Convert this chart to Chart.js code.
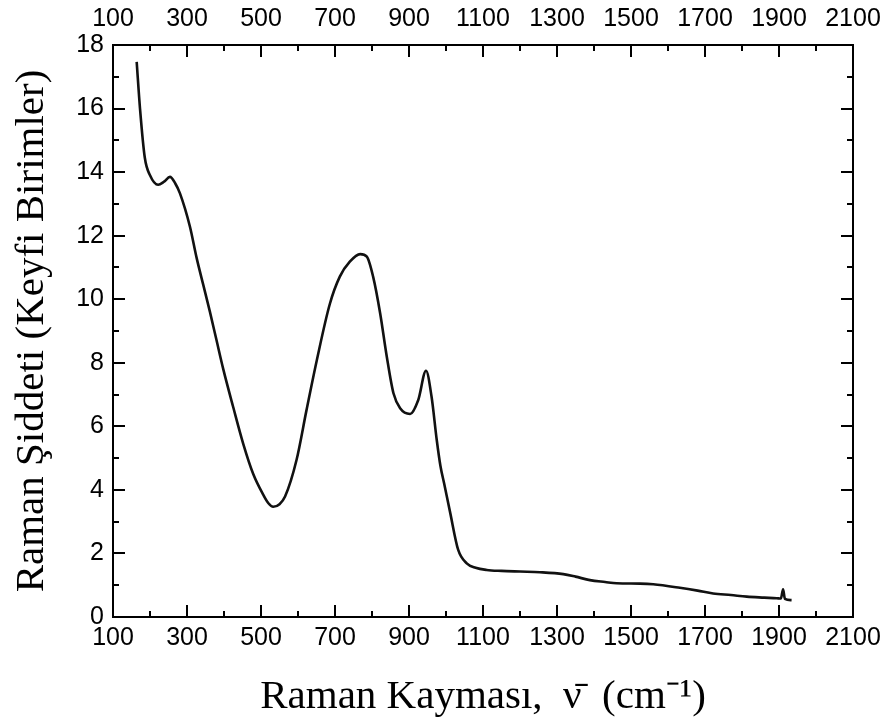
<!DOCTYPE html>
<html>
<head>
<meta charset="utf-8">
<script src="https://cdn.jsdelivr.net/npm/chart.js@4.4.1/dist/chart.umd.min.js"></script>
<style>
  html, body { margin: 0; padding: 0; background: #fff; }
  #wrap { width: 892px; height: 726px; }
</style>
</head>
<body>
<div id="wrap"><canvas id="ramanChart" width="892" height="726"></canvas></div>
<script>
// Raman shift (cm-1) and intensity (arbitrary units)
const ramanShift = [164, 173, 186, 200, 222, 238, 254, 268, 281, 308, 326, 344, 362, 380, 398,
  425, 452, 479, 506, 520, 533, 550, 565, 596, 623, 651, 686, 713, 740, 768, 786, 803, 822, 840, 858,
  876, 903, 925, 946, 961, 975, 985, 995, 1011, 1033, 1056, 1080, 1110, 1150, 1200, 1254, 1317, 1350,
  1389, 1430, 1461, 1524, 1560, 1632, 1680, 1722, 1770, 1813, 1860, 1894, 1905, 1911, 1916, 1934];
const intensity = [17.47, 16.0, 14.45, 13.9, 13.6, 13.7, 13.85, 13.65, 13.33, 12.28, 11.3,
  10.45, 9.6, 8.7, 7.8, 6.6, 5.45, 4.5, 3.85, 3.58, 3.47, 3.55, 3.79, 4.94, 6.51, 8.09, 9.85, 10.71,
  11.18, 11.42, 11.34, 10.71, 9.56, 8.19, 7.04, 6.57, 6.39, 6.83, 7.75, 6.93, 5.57, 4.75, 4.2, 3.3, 2.11,
  1.69, 1.55, 1.48, 1.45, 1.43, 1.41, 1.35, 1.27, 1.16, 1.1, 1.06, 1.05, 1.03, 0.92, 0.83, 0.74, 0.69,
  0.64, 0.61, 0.59, 0.58, 0.87, 0.57, 0.53];

// axis ranges
const xMin = 100, xMax = 2100, xStep = 200;
const yMin = 0, yMax = 18, yStep = 2;

const points = ramanShift.map((x, i) => ({ x: x, y: intensity[i] }));

const tickFont = { family: 'Liberation Sans, Arial, sans-serif', size: 25 };
const titleFont = { family: 'Liberation Serif, Times New Roman, serif', size: 41 };
const plainNum = v => String(v);

// inward major/minor tick marks on all four sides
const inwardTicks = {
  id: 'inwardTicks',
  afterDraw(chart) {
    const ctx = chart.ctx;
    const area = chart.chartArea;
    ctx.save();
    ctx.strokeStyle = '#000';
    ctx.lineWidth = 2;
    ['x', 'x2', 'y', 'y2'].forEach(id => {
      const s = chart.scales[id];
      const step = s.isHorizontal() ? xStep : yStep;
      const vals = s.ticks.map(t => t.value);
      vals.forEach(v => {
        [[v, 12], [v + step / 2, 6]].forEach(([val, len]) => {
          if (val > s.max) return;
          const p = Math.round(s.getPixelForValue(val));
          ctx.beginPath();
          if (id === 'x') { ctx.moveTo(p, area.bottom); ctx.lineTo(p, area.bottom - len); }
          if (id === 'x2') { ctx.moveTo(p, area.top); ctx.lineTo(p, area.top + len); }
          if (id === 'y') { ctx.moveTo(area.left, p); ctx.lineTo(area.left + len, p); }
          if (id === 'y2') { ctx.moveTo(area.right, p); ctx.lineTo(area.right - len, p); }
          ctx.stroke();
        });
      });
    });
    ctx.restore();
  }
};

const baseGrid = { drawOnChartArea: false, drawTicks: false };
const baseBorder = { display: true, color: '#000', width: 2 };

new Chart(document.getElementById('ramanChart'), {
  type: 'line',
  data: {
    datasets: [{
      data: points,
      borderColor: '#111',
      borderWidth: 2.6,
      pointRadius: 0,
      cubicInterpolationMode: 'monotone',
      fill: false
    }]
  },
  options: {
    responsive: false,
    animation: false,
    layout: { padding: 0 },
    plugins: { legend: { display: false }, tooltip: { enabled: false } },
    scales: {
      x: {
        type: 'linear', position: 'bottom', min: xMin, max: xMax,
        grid: baseGrid, border: baseBorder,
        ticks: { stepSize: xStep, color: '#000', font: tickFont, padding: 6, maxRotation: 0, autoSkip: false, callback: plainNum },
        title: { display: true, text: 'Raman Kayması,  ν̄  (cm⁻¹)', color: '#000', font: titleFont, padding: { top: 12 } },
        afterFit(s) { s.height = 109; }
      },
      x2: {
        type: 'linear', position: 'top', min: xMin, max: xMax,
        grid: baseGrid, border: baseBorder,
        ticks: { stepSize: xStep, color: '#000', font: tickFont, padding: 11, maxRotation: 0, autoSkip: false, callback: plainNum },
        afterFit(s) { s.height = 45; }
      },
      y: {
        type: 'linear', position: 'left', min: yMin, max: yMax,
        grid: baseGrid, border: baseBorder,
        ticks: { stepSize: yStep, color: '#000', font: tickFont, padding: 9, callback: plainNum },
        title: { display: true, text: 'Raman Şiddeti (Keyfi Birimler)', color: '#000', font: titleFont, padding: { bottom: 0, top: 8 } },
        afterFit(s) { s.width = 113; }
      },
      y2: {
        type: 'linear', position: 'right', min: yMin, max: yMax,
        grid: baseGrid, border: baseBorder,
        ticks: { stepSize: yStep, display: false },
        afterFit(s) { s.width = 39; }
      }
    }
  },
  plugins: [inwardTicks]
});
</script>
</body>
</html>
